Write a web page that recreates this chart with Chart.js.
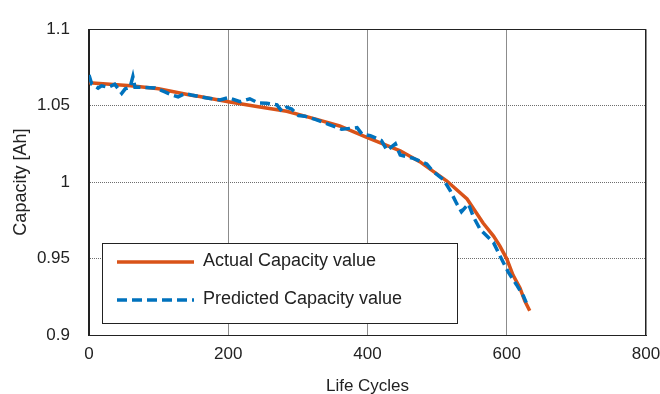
<!DOCTYPE html>
<html>
<head>
<meta charset="utf-8">
<script src="https://cdn.jsdelivr.net/npm/chart.js@4/dist/chart.umd.min.js"></script>
<style>
  body { margin: 0; background: #fff; }
  canvas { display: block; }
</style>
</head>
<body>
<canvas id="capChart" width="660" height="394"></canvas>
<script>
// values
const actualCycles = [0, 30, 60, 100, 145, 159, 200, 241, 284, 327, 360, 399, 447, 475, 514, 543, 566, 581, 590, 600, 609, 619, 626, 633];
const actualCapacity = [1.065, 1.064, 1.063, 1.061, 1.057, 1.056, 1.0526, 1.0494, 1.0463, 1.041, 1.0367, 1.0293, 1.0205, 1.0134, 1.0007, 0.989, 0.9732, 0.9647, 0.9583, 0.9498, 0.9392, 0.9307, 0.9222, 0.9159];

const predCycles = [0, 4, 13, 18, 28, 37, 42, 47, 52, 59, 63, 66, 78, 95, 109, 119, 128, 138, 147, 159, 174, 188, 200, 217, 231, 243, 255, 270, 277, 284, 291, 301, 310, 325, 344, 363, 385, 392, 404, 420, 428, 440, 447, 466, 485, 494, 509, 519, 528, 535, 545, 552, 562, 581, 590, 602, 614, 624, 628];
const predCapacity = [1.070, 1.064, 1.0615, 1.063, 1.062, 1.064, 1.061, 1.058, 1.061, 1.062, 1.069, 1.062, 1.062, 1.0615, 1.059, 1.057, 1.0558, 1.058, 1.057, 1.0558, 1.0547, 1.0537, 1.0552, 1.0526, 1.0545, 1.0518, 1.0515, 1.0505, 1.0463, 1.049, 1.0478, 1.0435, 1.0431, 1.041, 1.0378, 1.0346, 1.0356, 1.0314, 1.0304, 1.0272, 1.0208, 1.025, 1.0177, 1.0155, 1.0118, 1.007, 1.0017, 0.9943, 0.986, 0.9806, 0.9858, 0.9774, 0.9689, 0.9604, 0.952, 0.9413, 0.9329, 0.9254, 0.9212];

const seriesNames = ['Actual Capacity value', 'Predicted Capacity value'];
const xTicks = [0, 200, 400, 600, 800];
const yTicks = [0.9, 0.95, 1, 1.05, 1.1];

const orange = '#D95319';
const blue = '#0072BD';
const fontName = '"Liberation Sans", Arial, sans-serif';

function toPoints(xs, ys) {
    return xs.map((x, i) => ({ x: x, y: ys[i] }));
}

// black frame round the plot area (top and right sides have no axis)
const frame = {
    id: 'frame',
    afterDatasetsDraw(chart) {
        const a = chart.chartArea;
        const c = chart.ctx;
        c.save();
        c.strokeStyle = '#222';
        c.lineWidth = 1;
        c.strokeRect(Math.round(a.left) - 0.5, Math.round(a.top) + 0.5, Math.round(a.right - a.left), Math.round(a.bottom - a.top));
        c.restore();
    }
};

// boxed legend sitting inside the plot, lower left
const boxLegend = {
    id: 'boxLegend',
    afterDraw(chart) {
        const c = chart.ctx;
        const ds = chart.data.datasets;
        c.save();
        c.fillStyle = '#fff';
        c.fillRect(102, 243, 355, 80);
        c.strokeStyle = '#222';
        c.lineWidth = 1;
        c.strokeRect(102.5, 243.5, 355, 80);
        const rows = [262, 300];
        ds.forEach((d, i) => {
            c.beginPath();
            c.strokeStyle = d.borderColor;
            c.lineWidth = 3.5;
            c.setLineDash(d.borderDash || []);
            c.moveTo(117, rows[i]);
            c.lineTo(194, rows[i]);
            c.stroke();
            c.setLineDash([]);
            c.fillStyle = '#222';
            c.font = '18px ' + fontName;
            c.textBaseline = 'middle';
            c.fillText(d.label, 203, rows[i] - 1);
        });
        c.restore();
    }
};

const ctx = document.getElementById('capChart').getContext('2d');

new Chart(ctx, {
    type: 'line',
    data: {
        datasets: [{
            label: seriesNames[0],
            data: toPoints(actualCycles, actualCapacity),
            borderColor: orange,
            borderWidth: 3.5,
            pointRadius: 0,
            tension: 0,
            order: 2
        }, {
            label: seriesNames[1],
            data: toPoints(predCycles, predCapacity),
            borderColor: blue,
            borderWidth: 3.5,
            borderDash: [10, 5],
            pointRadius: 0,
            tension: 0,
            order: 1
        }]
    },
    options: {
        responsive: false,
        animation: false,
        events: [],
        layout: { padding: { top: 21, right: 14, bottom: 0, left: 0 } },
        plugins: {
            legend: { display: false },
            tooltip: { enabled: false }
        },
        scales: {
            x: {
                type: 'linear',
                min: 0,
                max: 800,
                afterBuildTicks(scale) {
                    scale.ticks = xTicks.map(v => ({ value: v }));
                },
                afterFit(scale) {
                    scale.height = 59;
                    // the last label may run off the edge, as in the reference
                    scale.paddingLeft = 0;
                    scale.paddingRight = 0;
                },
                grid: { color: '#8c8c8c', lineWidth: 1, drawTicks: false },
                border: { color: '#222', width: 1 },
                ticks: {
                    padding: 9,
                    color: '#222',
                    font: { family: fontName, size: 17 }
                },
                title: {
                    display: true,
                    text: 'Life Cycles',
                    color: '#222',
                    font: { family: fontName, size: 17 },
                    padding: { top: 0, bottom: -3 }
                }
            },
            y: {
                type: 'linear',
                min: 0.9,
                max: 1.1,
                afterBuildTicks(scale) {
                    scale.ticks = yTicks.map(v => ({ value: v }));
                },
                afterFit(scale) { scale.width = 89; },
                grid: { color: '#6e6e6e', lineWidth: 1, drawTicks: false },
                border: { color: '#222', width: 1, dash: [1, 1] },
                ticks: {
                    padding: 19,
                    color: '#222',
                    font: { family: fontName, size: 17 },
                    callback: v => String(+v.toFixed(2))
                },
                title: {
                    display: true,
                    text: 'Capacity [Ah]',
                    color: '#222',
                    font: { family: fontName, size: 18 },
                    padding: { top: 10, bottom: 0 }
                }
            }
        }
    },
    plugins: [frame, boxLegend]
});
</script>
</body>
</html>
